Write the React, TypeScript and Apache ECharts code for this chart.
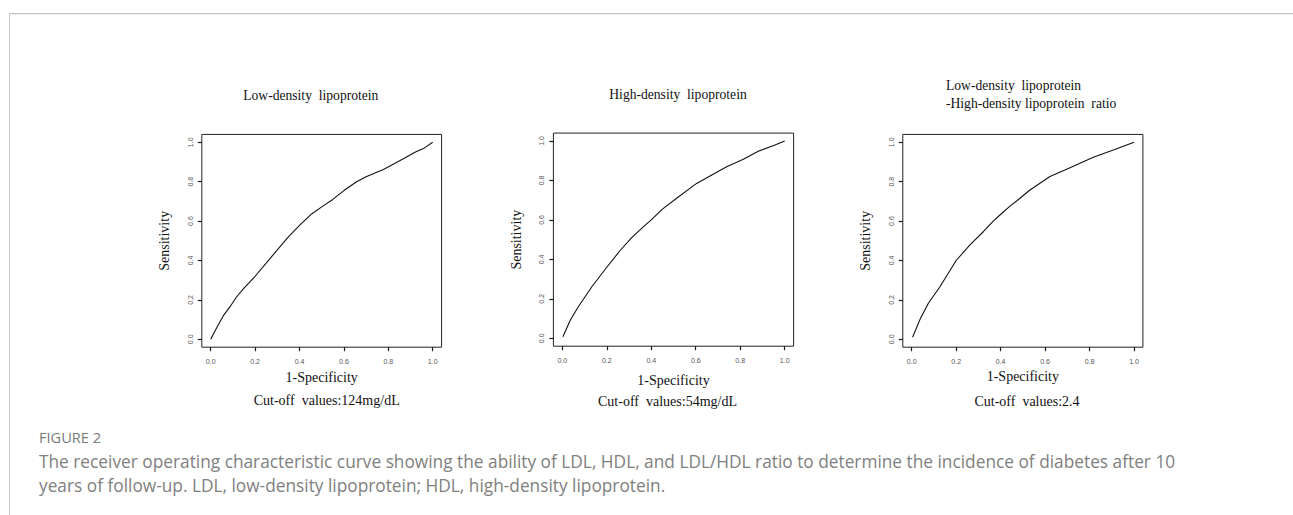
import React, { useEffect, useRef } from "react";
import * as echarts from "echarts";

// ROC curve points [1-Specificity, Sensitivity]
const ldlCurve: [number, number][] = [
  [0, 0], [0.03, 0.065], [0.057, 0.12], [0.09, 0.17], [0.117, 0.216], [0.15, 0.26],
  [0.2, 0.32], [0.267, 0.41], [0.35, 0.52], [0.4, 0.578], [0.45, 0.632], [0.5, 0.672],
  [0.55, 0.71], [0.6, 0.755], [0.657, 0.8], [0.7, 0.825], [0.778, 0.862], [0.868, 0.917],
  [0.92, 0.95], [0.958, 0.968], [1, 1],
];
const hdlCurve: [number, number][] = [
  [0.003, 0.008], [0.035, 0.09], [0.072, 0.16], [0.132, 0.26], [0.2, 0.36], [0.26, 0.445],
  [0.312, 0.51], [0.364, 0.565], [0.4, 0.6], [0.45, 0.655], [0.514, 0.71], [0.604, 0.785],
  [0.664, 0.823], [0.739, 0.87], [0.814, 0.907], [0.881, 0.948], [0.956, 0.98], [1, 1],
];
const ratioCurve: [number, number][] = [
  [0.004, 0.01], [0.037, 0.1], [0.075, 0.183], [0.127, 0.267], [0.2, 0.4], [0.262, 0.479],
  [0.322, 0.546], [0.367, 0.6], [0.397, 0.631], [0.442, 0.676], [0.472, 0.702], [0.532, 0.758],
  [0.622, 0.826], [0.712, 0.871], [0.817, 0.924], [0.907, 0.961], [1, 1],
];

const axisMin = 0;
const axisMax = 1;
const axisInterval = 0.2;
const panelTitles = [
  ["Low-density\u00a0\u00a0lipoprotein"],
  ["High-density\u00a0\u00a0lipoprotein"],
  ["Low-density\u00a0\u00a0lipoprotein", "-High-density\u00a0lipoprotein\u00a0\u00a0ratio"],
];
const cutOffLabels = [
  "Cut-off\u00a0\u00a0values:124mg/dL",
  "Cut-off\u00a0\u00a0values:54mg/dL",
  "Cut-off\u00a0\u00a0values:2.4",
];
const xAxisTitle = "1-Specificity";
const yAxisTitle = "Sensitivity";
const figureLabel = "FIGURE 2";
const captionLines = [
  "The receiver operating characteristic curve showing the ability of LDL, HDL, and LDL/HDL ratio to determine the incidence of diabetes after 10",
  "years of follow-up. LDL, low-density lipoprotein; HDL, high-density lipoprotein.",
];

const curves = [ldlCurve, hdlCurve, ratioCurve];

// data region (0..1) of each panel
const inner = [
  { left: 210.7, top: 142.3, width: 222, height: 197 },
  { left: 562.3, top: 141, width: 222.4, height: 197.3 },
  { left: 911.7, top: 142.3, width: 222.3, height: 197 },
];
const EXT = 0.04; // R's default 4% axis extension for the frame
const xNameGap = [23, 27, 22];
const titleY = [[95], [94], [85, 103.3]];
const titleX = [310.8, 678, 946];
const cutOffPos = [
  [326.7, 400],
  [667.5, 401],
  [1027, 401],
];

const SERIF = "'Liberation Serif', 'Times New Roman', serif";
const SANS = "'Liberation Sans', Arial, sans-serif";
const CAPTION = "'Open Sans', Lato, sans-serif";

export default function App() {
  const ref = useRef<HTMLDivElement>(null);
  useEffect(() => {
    if (!ref.current) return;
    const chart = echarts.init(ref.current, undefined, { renderer: "svg" });

    const graphic: any[] = [
      { type: "line", shape: { x1: 9, y1: 13.5, x2: 1293, y2: 13.5 }, style: { stroke: "#c4c4c4", lineWidth: 1 } },
      { type: "line", shape: { x1: 9, y1: 14.5, x2: 1293, y2: 14.5 }, style: { stroke: "#ececec", lineWidth: 1 } },
      { type: "line", shape: { x1: 9.5, y1: 13, x2: 9.5, y2: 515 }, style: { stroke: "#c8c8c8", lineWidth: 1 } },
    ];
    panelTitles.forEach((lines, i) => {
      lines.forEach((t, j) => {
        graphic.push({
          type: "text",
          x: titleX[i],
          y: titleY[i][j],
          style: {
            text: t,
            font: `13.6px ${SERIF}`,
            fill: "#111",
            align: i === 2 ? "left" : "center",
            verticalAlign: "middle",
          },
        });
      });
    });
    cutOffLabels.forEach((t, i) => {
      graphic.push({
        type: "text",
        x: cutOffPos[i][0],
        y: cutOffPos[i][1],
        style: { text: t, font: `14px ${SERIF}`, fill: "#111", align: "center", verticalAlign: "middle" },
      });
    });
    graphic.push({
      type: "text",
      x: 39,
      y: 437,
      style: { text: figureLabel, font: `14.6px ${CAPTION}`, fill: "#7a7a7a", verticalAlign: "middle" },
    });
    captionLines.forEach((t, i) => {
      graphic.push({
        type: "text",
        x: 39,
        y: 461 + i * 24,
        style: { text: t, font: `17.3px ${CAPTION}`, fill: "#808080", verticalAlign: "middle" },
      });
    });

    // outer frame grids (extended by 4%) followed by inner data grids
    const frames = inner.map((g) => ({
      left: g.left - g.width * EXT,
      top: g.top - g.height * EXT,
      width: g.width * (1 + 2 * EXT),
      height: g.height * (1 + 2 * EXT),
      show: true,
      borderColor: "#222",
      borderWidth: 1,
      backgroundColor: "transparent",
    }));
    const dataGrids = inner.map((g) => ({ ...g, show: false }));

    const hiddenAxis = (gi: number) => ({
      type: "value",
      gridIndex: gi,
      min: axisMin - EXT,
      max: axisMax + EXT,
      show: false,
    });

    const xAxes: any[] = [];
    const yAxes: any[] = [];
    frames.forEach((_, i) => {
      xAxes.push(hiddenAxis(i));
      yAxes.push(hiddenAxis(i));
    });
    inner.forEach((g, i) => {
      const gi = i + 3;
      xAxes.push({
        type: "value",
        gridIndex: gi,
        position: "bottom",
        offset: g.height * EXT,
        min: axisMin,
        max: axisMax,
        interval: axisInterval,
        name: xAxisTitle,
        nameLocation: "middle",
        nameGap: xNameGap[i],
        nameTextStyle: { fontFamily: SERIF, fontSize: 14, color: "#111" },
        axisLine: { show: false, onZero: false },
        splitLine: { show: false },
        axisTick: { show: true, inside: false, length: 4, lineStyle: { color: "#1a1a1a", width: 1.2 } },
        axisLabel: {
          formatter: (v: number) => v.toFixed(1),
          fontFamily: SANS,
          fontSize: 7,
          color: "#555",
          margin: 11,
          showMinLabel: true,
          showMaxLabel: true,
        },
      });
      yAxes.push({
        type: "value",
        gridIndex: gi,
        position: "left",
        offset: g.width * EXT,
        min: axisMin,
        max: axisMax,
        interval: axisInterval,
        name: yAxisTitle,
        nameLocation: "middle",
        nameGap: 30,
        nameRotate: 90,
        nameTextStyle: { fontFamily: SERIF, fontSize: 14, color: "#111" },
        axisLine: { show: false, onZero: false },
        splitLine: { show: false },
        axisTick: { show: true, inside: false, length: 4, lineStyle: { color: "#1a1a1a", width: 1.2 } },
        axisLabel: {
          formatter: (v: number) => v.toFixed(1),
          fontFamily: SANS,
          fontSize: 7,
          color: "#555",
          rotate: 90,
          margin: 8,
          showMinLabel: true,
          showMaxLabel: true,
        },
      });
    });

    const option: any = {
      animation: false,
      backgroundColor: "#fff",
      grid: [...frames, ...dataGrids],
      xAxis: xAxes,
      yAxis: yAxes,
      series: curves.map((c, i) => ({
        type: "line",
        xAxisIndex: i + 3,
        yAxisIndex: i + 3,
        data: c,
        showSymbol: false,
        smooth: false,
        clip: false,
        lineStyle: { color: "#111", width: 1.1 },
        itemStyle: { color: "#111" },
      })),
      graphic,
    };
    chart.setOption(option);
    return () => chart.dispose();
  }, []);
  return (
    <div
      ref={ref}
      style={{ position: "fixed", left: 0, top: 0, width: 1293, height: 515, background: "#fff" }}
    />
  );
}
